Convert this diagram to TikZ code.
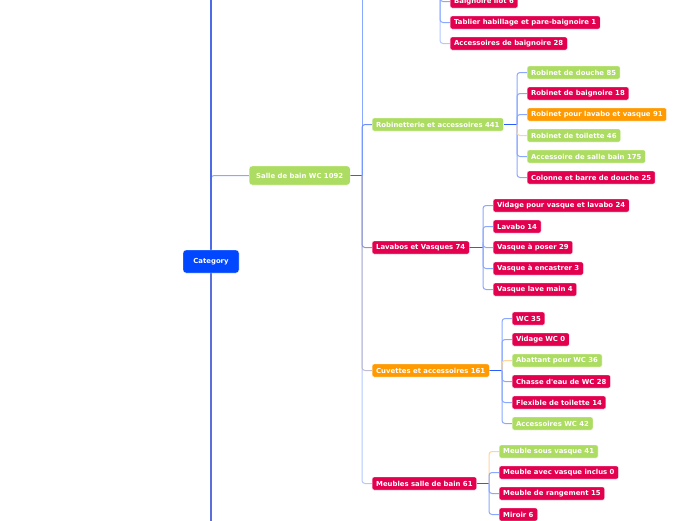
\documentclass[tikz,border=0pt]{standalone}
\usepackage{fontspec}
\setmainfont{DejaVu Sans}[Ligatures=TeXOff]
\usetikzlibrary{backgrounds}
\definecolor{cgreen}{HTML}{ADDC62}
\definecolor{cred}{HTML}{E2004F}
\definecolor{corange}{HTML}{FF9A00}
\definecolor{ccat}{HTML}{0047FF}
\definecolor{lblue}{HTML}{8AA8FF}
\definecolor{pblue}{HTML}{B3C8FF}
\definecolor{rblue}{HTML}{6F8FFF}
\definecolor{dblue}{HTML}{2A5CFF}
\definecolor{sblue}{HTML}{3F5FD0}
\definecolor{mblue}{HTML}{4D6BE6}
\definecolor{nblue}{HTML}{5B6FD8}
\definecolor{lorange}{HTML}{FFD699}
\definecolor{grayv}{HTML}{C0BCD2}
\definecolor{purpv}{HTML}{8E96D4}
\tikzset{
  x=1pt, y=-1pt,
  topic/.style={rounded corners=2pt, text=white, font=\fontsize{6.9}{7.5}\selectfont\bfseries,
    inner xsep=4pt, inner ysep=0pt, minimum height=13pt, anchor=west, draw=white, line width=0.3pt},
  tgreen/.style={topic, fill=cgreen},
  tred/.style={topic, fill=cred},
  torange/.style={topic, fill=corange},
  link/.style={line width=1pt, rounded corners=3pt},
  hub/.style={line width=1.2pt, dblue},
}
\begin{document}
\begin{tikzpicture}
\useasboundingbox (0,0) rectangle (696,520);

% junctions and off-picture ends
\coordinate (catj) at (211,261.5);
\coordinate (catup) at (211,-40);
\coordinate (catdown) at (211,560);
\coordinate (sj) at (362,175.5);
\coordinate (stop) at (362,-40);
\coordinate (bj) at (440,-20);
\coordinate (rj) at (517,124.5);
\coordinate (lj) at (483,247.5);
\coordinate (cj) at (502,370.5);
\coordinate (mj) at (489,483.5);

% nodes
\node[topic, fill=ccat, anchor=center, minimum width=56pt, minimum height=23pt, rounded corners=3pt] (cat) at (211,261.5) {Category};
\node[tgreen, minimum height=19pt, inner xsep=7pt, rounded corners=3pt] (salle) at (249,175.5) {Salle de bain WC 1092};

\node[tgreen] (rob) at (372,124.5) {Robinetterie et accessoires 441};
\node[tred] (lav) at (372,247.5) {Lavabos et Vasques 74};
\node[torange] (cuv) at (372,370.5) {Cuvettes et accessoires 161};
\node[tred] (meu) at (372,483.5) {Meubles salle de bain 61};

\node[tred] (b1) at (450,1.5) {Baignoire îlot 6};
\node[tred] (b2) at (450,22.5) {Tablier habillage et pare-baignoire 1};
\node[tred] (b3) at (450,43.5) {Accessoires de baignoire 28};

\node[tgreen] (r1) at (527,72.5) {Robinet de douche 85};
\node[tred] (r2) at (527,93.5) {Robinet de baignoire 18};
\node[torange] (r3) at (527,114.5) {Robinet pour lavabo et vasque 91};
\node[tgreen] (r4) at (527,135.5) {Robinet de toilette 46};
\node[tgreen] (r5) at (527,156.5) {Accessoire de salle bain 175};
\node[tred] (r6) at (527,177.5) {Colonne et barre de douche 25};

\node[tred] (l1) at (493,205.5) {Vidage pour vasque et lavabo 24};
\node[tred] (l2) at (493,226.5) {Lavabo 14};
\node[tred] (l3) at (493,247.5) {Vasque à poser 29};
\node[tred] (l4) at (493,268.5) {Vasque à encastrer 3};
\node[tred] (l5) at (493,289.5) {Vasque lave main 4};

\node[tred] (c1) at (512,318.5) {WC 35};
\node[tred] (c2) at (512,339.5) {Vidage WC 0};
\node[tgreen] (c3) at (512,360.5) {Abattant pour WC 36};
\node[tred] (c4) at (512,381.5) {Chasse d'eau de WC 28};
\node[tred] (c5) at (512,402.5) {Flexible de toilette 14};
\node[tgreen] (c6) at (512,423.5) {Accessoires WC 42};

\node[tgreen] (m1) at (499,451.5) {Meuble sous vasque 41};
\node[tred] (m2) at (499,472.5) {Meuble avec vasque inclus 0};
\node[tred] (m3) at (499,493.5) {Meuble de rangement 15};
\node[tred] (m4) at (499,514.5) {Miroir 6};

% connectors (behind nodes)
\begin{scope}[on background layer]
\fill[white] (0,0) rectangle (696,520);
% Category
\draw[link, lblue] (catj) |- (salle.west);
\draw[line width=1.4pt, mblue] (catj) -- (catup);
\draw[line width=1.4pt, nblue] (catj) -- (catdown);
% Salle de bain
\draw[line width=1.2pt, sblue] (salle.east) -- (sj);
\draw[link, lblue] (sj) -- (stop);
\draw[link, pblue] (sj) |- (meu.west);
\draw[link, grayv] (sj) |- (cuv.west);
\draw[link, purpv] (sj) |- (lav.west);
\draw[link, rblue] (sj) |- (rob.west);
% Baignoire group
\draw[link, pblue] (bj) |- (b3.west);
\draw[link, lblue] (bj) |- (b2.west);
\draw[link, lblue] (bj) |- (b1.west);
% Robinetterie
\draw[hub] (rob.east) -- (rj);
\draw[link, lblue] (rj) |- (r1.west);
\draw[link, lblue] (rj) |- (r6.west);
\draw[link, lblue] (rj) |- (r2.west);
\draw[link, lblue] (rj) |- (r5.west);
\draw[link, lblue] (rj) |- (r3.west);
\draw[link, lorange] (rj) |- (r4.west);
% Lavabos
\draw[hub] (lav.east) -- (lj);
\draw[link, lblue] (lj) |- (l1.west);
\draw[link, lblue] (lj) |- (l5.west);
\draw[link, lblue] (lj) |- (l2.west);
\draw[link, lblue] (lj) |- (l4.west);
\draw[link, lblue] (lj) |- (l3.west);
% Cuvettes
\draw[hub] (cuv.east) -- (cj);
\draw[link, lblue] (cj) |- (c1.west);
\draw[link, lblue] (cj) |- (c6.west);
\draw[link, lblue] (cj) |- (c2.west);
\draw[link, lblue] (cj) |- (c5.west);
\draw[link, lorange] (cj) |- (c3.west);
\draw[link, lblue] (cj) |- (c4.west);
% Meubles
\draw[hub] (meu.east) -- (mj);
\draw[link, lblue] (mj) |- (m4.west);
\draw[link, lorange] (mj) |- (m1.west);
\draw[link, lblue] (mj) |- (m3.west);
\draw[link, lblue] (mj) |- (m2.west);
\end{scope}
\end{tikzpicture}
\end{document}
